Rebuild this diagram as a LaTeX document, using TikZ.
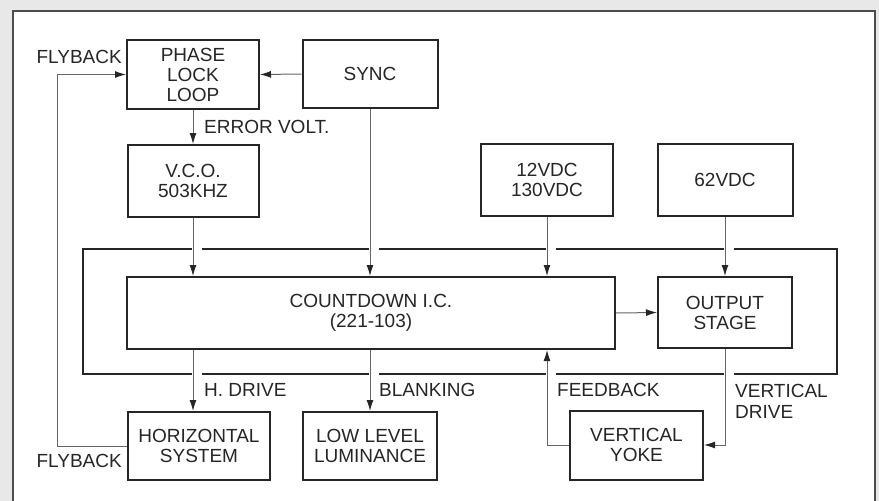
\documentclass[tikz,border=0pt]{standalone}
\usepackage{fontspec}
\setmainfont{Liberation Sans}
\usetikzlibrary{arrows.meta}
\tikzset{
  blk/.style={draw=black!85, line width=2pt, fill=white, inner sep=0pt, align=center,
    font=\fontsize{19}{20}\selectfont, text=black!85},
  lbl/.style={inner sep=0pt, font=\fontsize{19}{21}\selectfont, text=black!85},
  conn/.style={draw=black!60, line width=1pt},
  arr/.style={conn, -{Latex[length=11pt,width=7pt,color=black!85]}},
  bigframe/.style={draw=black!85, line width=2.4pt, line cap=butt},
}
\begin{document}
\begin{tikzpicture}[x=1pt,y=-1pt]
\useasboundingbox (0,0) rectangle (879,501);
\fill[black!9] (0,0) rectangle (879,501);
\fill[white] (13,11) rectangle (875,505);
\draw[black!70, line width=1.5pt] (13,505) -- (13,11) -- (875,11) -- (875,505);

% blocks
\node[blk, minimum width=132pt, minimum height=69pt] (pll) at (193,74.5) {PHASE\\LOCK\\LOOP};
\node[blk, minimum width=135pt, minimum height=68pt] (sync) at (370,74) {SYNC};
\node[blk, minimum width=131pt, minimum height=72pt] (vco) at (193,181) {V.C.O.\\503KHZ};
\node[blk, minimum width=132pt, minimum height=72pt] (v12) at (547,180) {12VDC\\130VDC};
\node[blk, minimum width=135pt, minimum height=72pt] (v62) at (725,180) {62VDC};
\node[blk, minimum width=488pt, minimum height=72pt] (cd) at (371,313) {COUNTDOWN I.C.\\(221-103)};
\node[blk, minimum width=134pt, minimum height=71pt] (out) at (725,312.5) {OUTPUT\\STAGE};
\node[blk, minimum width=142pt, minimum height=68pt] (hor) at (199,446) {HORIZONTAL\\SYSTEM};
\node[blk, minimum width=134pt, minimum height=68pt] (lum) at (370,446) {LOW LEVEL\\LUMINANCE};
\node[blk, minimum width=133pt, minimum height=69pt] (yoke) at (636.5,445) {VERTICAL\\YOKE};

% enclosing frame with gaps at crossings
\draw[bigframe] (202,249) -- (369,249) (379,249) -- (546,249) (556,249) -- (724,249)
  (734,249) -- (837,249) -- (837,374) -- (734,374) (724,374) -- (556,374)
  (546,374) -- (379,374) (369,374) -- (202,374) (192,374) -- (83,374) -- (83,249) -- (192,249);

% connectors
\coordinate (fbx) at (57,0);
\draw[arr] (sync.west) -- (pll.east);
\draw[arr] (pll.south) -- (vco.north);
\draw[arr] (vco.south) -- (vco.south |- cd.north);
\draw[arr] (sync.south) -- (sync.south |- cd.north);
\draw[arr] (v12.south) -- (v12.south |- cd.north);
\draw[arr] (v62.south) -- (out.north);
\draw[arr] (cd.east) -- (out.west);
\draw[arr] (vco.south |- cd.south) -- (vco.south |- hor.north);
\draw[arr] (lum.north |- cd.south) -- (lum.north);
\draw[arr] (yoke.west) -| (v12.south |- cd.south);
\draw[arr] (out.south) |- (yoke.east);
\draw[arr] (hor.west) -- (hor.west -| fbx) -- (pll.west -| fbx) -- (pll.west);

% labels
\node[lbl, anchor=east] (lfb1) at (122,57) {FLYBACK};
\node[lbl, anchor=east] (lfb2) at (122,461) {FLYBACK};
\node[lbl, anchor=west] (lerr) at (204,127) {ERROR VOLT.};
\node[lbl, anchor=west] (lhd) at (204,390) {H. DRIVE};
\node[lbl, anchor=west] (lbl1) at (379,390) {BLANKING};
\node[lbl, anchor=west] (lfeed) at (557,390) {FEEDBACK};
\node[lbl, anchor=west, align=left] (lvd) at (735,401) {VERTICAL\\DRIVE};
\end{tikzpicture}
\end{document}
